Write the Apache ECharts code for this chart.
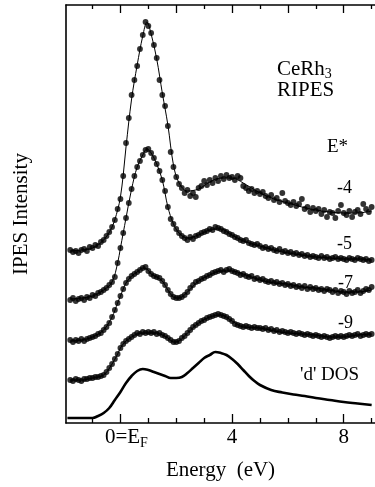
<!DOCTYPE html>
<html>
<head>
<meta charset="utf-8">
<script src="https://cdn.jsdelivr.net/npm/echarts@6/dist/echarts.min.js"></script>
<style>
  html, body { margin: 0; padding: 0; background: #fff; }
  #chart { width: 375px; height: 487px; }
</style>
</head>
<body>
<div id="chart"></div>
<script>
// Photon energy grid of the RIPES spectra (eV, relative to E_F)
const energy = [
  -1.8, -1.7, -1.6, -1.5, -1.4, -1.3, -1.2, -1.1, -1.0, -0.9, -0.8, -0.7, -0.6, -0.5, -0.4, -0.3, -0.2, -0.1,
  0.0, 0.1, 0.2, 0.3, 0.4, 0.5, 0.6, 0.7, 0.8, 0.9,
  1.0, 1.1, 1.2, 1.3, 1.4, 1.5, 1.6, 1.7, 1.8, 1.9,
  2.0, 2.1, 2.2, 2.3, 2.4, 2.5, 2.6, 2.7, 2.8, 2.9,
  3.0, 3.1, 3.2, 3.3, 3.4, 3.5, 3.6, 3.7, 3.8, 3.9,
  4.0, 4.1, 4.2, 4.3, 4.4, 4.5, 4.6, 4.7, 4.8, 4.9,
  5.0, 5.1, 5.2, 5.3, 5.4, 5.5, 5.6, 5.7, 5.8, 5.9,
  6.0, 6.1, 6.2, 6.3, 6.4, 6.5, 6.6, 6.7, 6.8, 6.9,
  7.0, 7.1, 7.2, 7.3, 7.4, 7.5, 7.6, 7.7, 7.8, 7.9,
  8.0, 8.1, 8.2, 8.3, 8.4, 8.5, 8.6, 8.7, 8.8, 8.9,
  9.0
];

// Measured intensities (offset for display), one array per E* setting
const spectrumE4 = [
  173, 171, 172, 170, 173, 174, 172, 176, 175, 178, 177, 181, 183, 187, 191, 196, 203, 214,
  224, 247, 280, 305, 328, 343, 357, 374, 388, 401,
  397, 390, 378, 365, 343, 328, 317, 297, 271, 256,
  246, 239, 235, 230, 233, 227, 230, 226, 235, 237,
  242, 238, 243, 240, 245, 242, 247, 244, 248, 245,
  246, 243, 247, 245, 237, 235, 232, 234, 230, 232,
  229, 231, 227, 225, 228, 223, 225, 221, 230, 222,
  220, 218, 221, 217, 219, 224, 214, 216, 211, 215,
  212, 214, 209, 213, 206, 211, 210, 205, 212, 218,
  210, 208, 212, 206, 211, 213, 209, 219, 214, 211,
  216
];
const spectrumE5 = [
  123, 125, 122, 124, 125, 123, 126, 125, 128, 127, 130, 131, 133, 135, 138, 141, 146, 160,
  175, 190, 205, 220, 234, 247, 256, 262, 268, 273,
  274, 270, 265, 259, 252, 243, 232, 216, 204, 199,
  194, 190, 187, 185, 183, 186, 184, 187, 188, 190,
  191, 192, 194, 193, 196, 195, 194, 192, 191, 189,
  188, 186, 185, 183, 182, 183, 180, 179, 178, 179,
  177, 175, 176, 174, 175, 173, 172, 174, 171, 172,
  170, 171, 169, 170, 168, 169, 167, 168, 166, 167,
  166, 165, 167, 165, 166, 164, 165, 166, 164, 165,
  164, 163, 165, 164, 163, 165, 164, 163, 164, 162,
  163
];
const spectrumE7 = [
  83, 81, 83, 82, 84, 82, 84, 85, 86, 87, 89, 90, 93, 96, 100, 106, 113, 120,
  127, 134, 140, 144, 147, 149, 151, 153, 155, 156,
  152, 149, 147, 146, 145, 142, 138, 133, 129, 126,
  125, 125, 126, 128, 131, 135, 138, 141, 142, 144,
  145, 147, 148, 150, 151, 152, 153, 151, 153, 154,
  152, 151, 150, 148, 149, 147, 146, 147, 144, 145,
  143, 144, 142, 141, 142, 140, 141, 139, 140, 138,
  139, 137, 138, 136, 137, 135, 137, 134, 136, 134,
  135, 133, 134, 132, 134, 133, 131, 133, 130, 132,
  131, 129, 132, 130, 131, 133, 130, 132, 134, 133,
  136
];
const spectrumE9 = [
  43, 42, 44, 43, 42, 44, 44, 45, 45, 46, 46, 47, 48, 51, 55, 59, 64, 69,
  75, 79, 82, 84, 86, 88, 90, 89, 91, 90,
  91, 90, 91, 89, 90, 88, 87, 85, 83, 81,
  81, 82, 85, 87, 90, 93, 96, 98, 100, 102,
  103, 105, 106, 107, 108, 109, 108, 107, 106, 104,
  102, 99, 98, 97, 96, 97, 96, 95, 96, 95,
  95, 94, 95, 93, 94, 92, 93, 91, 92, 91,
  90, 91, 90, 89, 90, 89, 88, 89, 88, 87,
  88, 87, 86, 87, 86, 85, 86, 87, 86, 87,
  86, 87, 88, 87, 88, 89, 87, 88, 89, 88,
  89
];

// Smooth guide curves drawn through each spectrum
const fitEnergy = [
  -1.8, -1.4, -1.0, -0.6, -0.3, -0.1, 0.0, 0.1, 0.2, 0.4, 0.6, 0.8, 0.95, 1.1, 1.3, 1.5, 1.7,
  1.9, 2.1, 2.4, 2.8, 3.2, 3.6, 4.0, 4.4, 5.0, 5.5, 6.0, 6.5, 7.0, 7.5, 8.0, 8.5, 9.0
];
const fitE4 = [172, 173, 175, 183, 196, 213, 226, 248, 276, 324, 358, 387, 401, 389, 364, 330, 298,
  258, 240, 232, 234, 241, 245, 245, 240, 230, 224, 220, 216, 213, 211, 210, 210, 212];
const fitE5 = [124, 125, 127, 133, 141, 160, 175, 190, 205, 234, 256, 268, 274, 270, 259, 243, 216,
  199, 190, 185, 188, 193, 194, 188, 182, 177, 173, 170, 168, 166, 165, 164, 164, 163];
const fitE7 = [82, 83, 86, 93, 106, 120, 127, 134, 140, 147, 151, 155, 154, 149, 146, 142, 133,
  126, 125, 131, 142, 148, 152, 152, 149, 143, 140, 139, 136, 135, 133, 131, 131, 133];
const fitE9 = [43, 43, 45, 48, 59, 69, 75, 79, 82, 86, 89, 90, 90, 90, 90, 88, 85,
  81, 82, 90, 100, 106, 108, 102, 96, 95, 92, 90, 89, 88, 86, 86, 88, 89];

// Calculated Rh 'd' density of states
const dosEnergy = [-1.9, -1.6, -1.2, -1.0, -0.8, -0.6, -0.4, -0.2, 0.0, 0.2, 0.4, 0.6, 0.8, 1.0, 1.2, 1.4,
  1.6, 1.8, 2.0, 2.2, 2.4, 2.6, 2.8, 3.0, 3.2, 3.4, 3.6, 3.8, 4.0, 4.2, 4.4, 4.6, 4.8, 5.0, 5.4, 5.8,
  6.2, 6.6, 7.0, 7.5, 8.0, 8.5, 9.0];
const dosValues = [5, 5, 5, 5, 7, 10, 15, 23, 31, 40, 47, 52, 54, 53, 51, 49,
  47, 45, 45, 46, 50, 55, 60, 65, 68, 71, 70, 68, 64, 59, 53, 47, 42, 38, 33, 30.5,
  28.5, 27, 25, 23, 21, 19.5, 18];

const curveLabels = ['-4', '-5', '-7', '-9'];
const majorTicks = [0, 4, 8];
const majorTickLabels = ['0=E_F', '4', '8'];
const minorTicksBottom = [-1, 1, 2, 3, 5, 6, 7, 9];
const topMajorTicks = [0, 2, 4, 6, 8];
const topMinorTicks = [-1, 1, 3, 5, 7, 9];

const FONT = "'Liberation Serif', 'Times New Roman', serif";
const INK = '#000';
const X_MIN = -1.95, X_MAX = 9.12;

const pairs = (xs, ys) => xs.map((x, i) => [x, ys[i]]);

const spectra = [spectrumE4, spectrumE5, spectrumE7, spectrumE9];
const fits = [fitE4, fitE5, fitE7, fitE9];

const series = [];
spectra.forEach((ys, k) => {
  series.push({
    type: 'line', name: 'fit' + curveLabels[k],
    data: pairs(fitEnergy, fits[k]),
    smooth: 0.35, showSymbol: false, silent: true,
    lineStyle: { color: INK, width: 1 }, z: 2
  });
  series.push({
    type: 'scatter', name: 'E* ' + curveLabels[k],
    data: pairs(energy, ys),
    symbol: 'circle', symbolSize: 5.8,
    itemStyle: { color: INK }, z: 3
  });
});
series.push({
  type: 'line', name: 'd DOS',
  data: pairs(dosEnergy, dosValues),
  smooth: 0.4, showSymbol: false,
  lineStyle: { color: INK, width: 2.6 }, z: 3
});

const axisLineStyle = { color: INK, width: 1.6 };
const tickStyle = { color: INK, width: 1.3 };
const baseX = {
  type: 'value', min: X_MIN, max: X_MAX,
  splitLine: { show: false },
  axisLine: { show: false, onZero: false },
  axisTick: { show: false },
  axisLabel: { show: false }
};

// "0=E_F" -> main text with a lowered subscript; the E_F label sits slightly right of its tick
const tickFormatter = (v) => {
  const t = majorTickLabels[majorTicks.indexOf(v)] || String(v);
  const [main, sub] = t.split('_');
  return sub ? '{m|' + main + '}{s|' + sub + '}' : '{n|' + main + '}';
};

const textItem = (text, x, y, size, rich) => ({
  type: 'text', x, y, silent: true,
  style: {
    text, x: 0, y: 0, fill: INK, font: size + 'px ' + FONT,
    align: 'left', verticalAlign: 'middle',
    textAlign: 'left', textVerticalAlign: 'middle',
    rich
  }
});

const labelY = [188, 244, 283, 323];
const labelX = [337, 337, 338, 338];

const chart = echarts.init(document.getElementById('chart'), null, { renderer: 'canvas' });
chart.setOption({
  animation: false,
  backgroundColor: '#fff',
  grid: { left: 66, top: 5, width: 311, height: 418 },
  xAxis: [
    Object.assign({}, baseX, {
      position: 'bottom',
      axisLine: { show: true, onZero: false, lineStyle: axisLineStyle },
      axisTick: { show: true, inside: true, length: 5, customValues: minorTicksBottom, lineStyle: tickStyle },
      name: 'Energy  (eV)', nameLocation: 'middle', nameGap: 37,
      nameTextStyle: { fontFamily: FONT, fontSize: 21, color: INK }
    }),
    Object.assign({}, baseX, {
      position: 'bottom',
      axisTick: { show: true, inside: true, length: 9, customValues: majorTicks, lineStyle: tickStyle },
      axisLabel: {
        show: true, customValues: majorTicks, margin: 1, formatter: tickFormatter,
        rich: {
          n: { fontFamily: FONT, fontSize: 21, color: INK, lineHeight: 27 },
          m: { fontFamily: FONT, fontSize: 21, color: INK, lineHeight: 27, padding: [0, 0, 0, 12] },
          s: { fontFamily: FONT, fontSize: 14, color: INK, lineHeight: 15, padding: [12, 0, 0, 0] }
        }
      }
    }),
    Object.assign({}, baseX, {
      position: 'top',
      axisLine: { show: true, onZero: false, lineStyle: axisLineStyle },
      axisTick: { show: true, inside: true, length: 4, customValues: topMinorTicks, lineStyle: tickStyle }
    }),
    Object.assign({}, baseX, {
      position: 'top',
      axisTick: { show: true, inside: true, length: 8, customValues: topMajorTicks, lineStyle: tickStyle }
    })
  ],
  yAxis: {
    type: 'value', min: 0, max: 418,
    splitLine: { show: false },
    axisLine: { show: true, onZero: false, lineStyle: axisLineStyle },
    axisTick: { show: false },
    axisLabel: { show: false },
    name: 'IPES Intensity', nameLocation: 'middle', nameGap: 34, nameRotate: 90,
    nameTextStyle: { fontFamily: FONT, fontSize: 21, color: INK }
  },
  series,
  graphic: [
    textItem('{a|CeRh}{s|3}', 277, 69, 21, {
      a: { fontFamily: FONT, fontSize: 21, color: INK, lineHeight: 26 },
      s: { fontFamily: FONT, fontSize: 14, color: INK, lineHeight: 16, padding: [10, 0, 0, 0] }
    }),
    textItem('RIPES', 277, 90, 21),
    textItem('E*', 327, 147, 19),
    ...curveLabels.map((t, i) => textItem(t, labelX[i], labelY[i], 18)),
    textItem("'d' DOS", 300, 375, 19)
  ]
});
</script>
</body>
</html>
